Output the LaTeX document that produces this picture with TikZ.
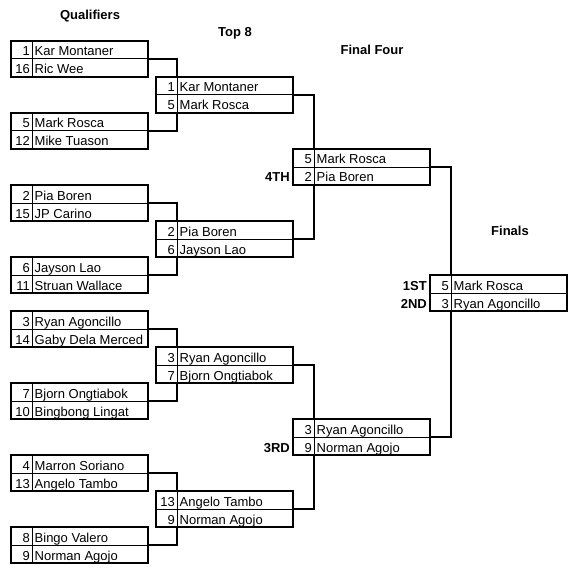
\documentclass[tikz,border=0pt]{standalone}
\usepackage{fontspec}
\setmainfont{Liberation Sans}
\usepackage{tikz}

% one match: name, left x, top y, seed/player of row 1, seed/player of row 2
\newcommand{\matchup}[7]{%
            \node[matchbox] (#1) at (#2+68.5, #3+18) {};
            \coordinate (#1n) at (#2+21, #3);
            \coordinate (#1s) at (#2+21, #3+36);
            \draw[cellline] (#1.west) -- (#1.east);
            \draw[cellline] (#1n) -- (#1s);
            \node[seed] (#1sa) at (#2+19, #3+15) {#4};
            \node[player] (#1pa) at (#2+23.5, #3+15) {#5};
            \node[seed] (#1sb) at (#2+19, #3+33) {#6};
            \node[player] (#1pb) at (#2+23.5, #3+33) {#7};
}

\begin{document}
\begin{tikzpicture}[x=1pt, y=-1pt,
            matchbox/.style={draw, line width=2pt, minimum width=137pt, minimum height=36pt, inner sep=0pt, outer sep=0pt},
            cellline/.style={line width=1pt},
            link/.style={line width=2pt},
            seed/.style={anchor=base east, inner sep=0pt, font=\fontsize{13}{15}\selectfont},
            player/.style={anchor=base west, inner sep=0pt, font=\fontsize{13}{15}\selectfont},
            heading/.style={anchor=base, inner sep=0pt, font=\fontsize{13}{15}\selectfont\bfseries},
            rank/.style={anchor=base east, inner sep=0pt, xshift=-3pt, font=\fontsize{13}{15}\selectfont\bfseries}]
            \useasboundingbox (0, 0) rectangle (580, 580);

            \node[heading] (hq) at (90, 20) {Qualifiers};
            \node[heading] (he) at (235, 37) {Top 8};
            \node[heading] (hf) at (372, 55) {Final Four};
            \node[heading] (hw) at (510, 235) {Finals};

            % qualifiers
            \matchup{q1}{11}{41}{1}{Kar Montaner}{16}{Ric Wee}
            \matchup{q2}{11}{113}{5}{Mark Rosca}{12}{Mike Tuason}
            \matchup{q3}{11}{185}{2}{Pia Boren}{15}{JP Carino}
            \matchup{q4}{11}{257}{6}{Jayson Lao}{11}{Struan Wallace}
            \matchup{q5}{11}{311}{3}{Ryan Agoncillo}{14}{Gaby Dela Merced}
            \matchup{q6}{11}{383}{7}{Bjorn Ongtiabok}{10}{Bingbong Lingat}
            \matchup{q7}{11}{455}{4}{Marron Soriano}{13}{Angelo Tambo}
            \matchup{q8}{11}{527}{8}{Bingo Valero}{9}{Norman Agojo}

            % top 8
            \matchup{e1}{156}{77}{1}{Kar Montaner}{5}{Mark Rosca}
            \matchup{e2}{156}{221}{2}{Pia Boren}{6}{Jayson Lao}
            \matchup{e3}{156}{347}{3}{Ryan Agoncillo}{7}{Bjorn Ongtiabok}
            \matchup{e4}{156}{491}{13}{Angelo Tambo}{9}{Norman Agojo}

            % final four and finals
            \matchup{f1}{293}{149}{5}{Mark Rosca}{2}{Pia Boren}
            \matchup{f2}{293}{419}{3}{Ryan Agoncillo}{9}{Norman Agojo}
            \matchup{fin}{430}{275}{5}{Mark Rosca}{3}{Ryan Agoncillo}

            \draw[link] (q1.east) -| (e1n);
            \draw[link] (q2.east) -| (e1s);
            \draw[link] (q3.east) -| (e2n);
            \draw[link] (q4.east) -| (e2s);
            \draw[link] (q5.east) -| (e3n);
            \draw[link] (q6.east) -| (e3s);
            \draw[link] (q7.east) -| (e4n);
            \draw[link] (q8.east) -| (e4s);
            \draw[link] (e1.east) -| (f1n);
            \draw[link] (e2.east) -| (f1s);
            \draw[link] (e3.east) -| (f2n);
            \draw[link] (e4.east) -| (f2s);
            \draw[link] (f1.east) -| (finn);
            \draw[link] (f2.east) -| (fins);

            \node[rank] (fourth) at (f1.west |- f1pb.base) {4TH};
            \node[rank] (third) at (f2.west |- f2pb.base) {3RD};
            \node[rank] (first) at (fin.west |- finpa.base) {1ST};
            \node[rank] (second) at (fin.west |- finpb.base) {2ND};
\end{tikzpicture}
\end{document}
